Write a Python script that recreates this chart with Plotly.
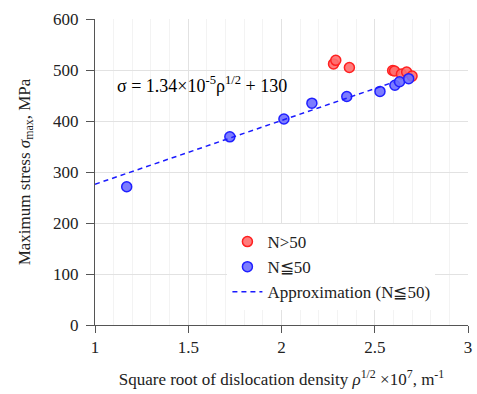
import plotly.graph_objects as go

# Data
red_x = [2.279, 2.291, 2.364, 2.596, 2.606, 2.643, 2.671, 2.700]
red_y = [512, 519, 505, 499, 498, 492, 496, 488]
blue_x = [1.17, 1.723, 2.013, 2.163, 2.35, 2.528, 2.608, 2.633, 2.682]
blue_y = [271, 369, 404, 435, 448, 458, 470, 477, 483]
approx_x = [1.0, 2.60]
approx_y = [276, 476]

x_ticks = [1, 1.5, 2, 2.5, 3]
y_ticks = [0, 100, 200, 300, 400, 500, 600]

FONT = "Times New Roman, Liberation Serif, serif"

fig = go.Figure()
fig.add_trace(go.Scatter(
    x=red_x, y=red_y, mode="markers", name="N>50",
    marker=dict(size=10, color="rgba(255,110,110,0.9)", line=dict(color="#ff2020", width=1.5)),
))
fig.add_trace(go.Scatter(
    x=blue_x, y=blue_y, mode="markers", name="N≦50",
    marker=dict(size=10, color="rgba(110,110,255,0.9)", line=dict(color="#2020ff", width=1.5)),
))
fig.add_trace(go.Scatter(
    x=approx_x, y=approx_y, mode="lines", name="Approximation (N≦50)",
    line=dict(color="#1a1aff", width=1.5, dash="5px,4px"),
))

fig.add_annotation(
    x=1.575, y=471, xref="x", yref="y", showarrow=False,
    text="σ = 1.34×10<sup>-5</sup>ρ<sup>1/2</sup> + 130",
    font=dict(family=FONT, size=18, color="black"),
)

fig.update_layout(
    width=477, height=394,
    margin=dict(l=95, r=5, t=19, b=69),
    paper_bgcolor="white", plot_bgcolor="white",
    font=dict(family=FONT, size=15, color="#222"),
    legend=dict(
        x=0.355, y=0.33, xanchor="left", yanchor="top",
        bgcolor="white", font=dict(family=FONT, size=17, color="#222"),
        itemwidth=30, tracegroupgap=0,
    ),
    showlegend=True,
)
fig.update_xaxes(
    range=[1, 3], tickvals=x_ticks, ticktext=[str(v) for v in x_ticks],
    showgrid=True, gridcolor="#e2e2e2", gridwidth=1,
    minor=dict(dtick=0.1, showgrid=True, gridcolor="#f3f3f3", gridwidth=1),
    showline=True, linecolor="#555", linewidth=1,
    ticks="outside", ticklen=7, tickcolor="#555",
    zeroline=False, mirror=False,
    title=dict(text="Square root of dislocation density <i>ρ</i><sup>1/2</sup> ×10<sup>7</sup>, m<sup>-1</sup>",
               font=dict(family=FONT, size=17, color="#222"), standoff=16),
    tickfont=dict(family=FONT, size=17, color="#222"),
)
fig.update_yaxes(
    range=[0, 600], tickvals=y_ticks,
    showgrid=True, gridcolor="#e2e2e2", gridwidth=1,
    showline=True, linecolor="#555", linewidth=1,
    ticks="outside", ticklen=8, tickcolor="#555",
    ticklabelstandoff=4,
    zeroline=False,
    title=dict(text="Maximum stress <i>σ</i><sub>max</sub>, MPa",
               font=dict(family=FONT, size=17, color="#222"), standoff=18),
    tickfont=dict(family=FONT, size=17, color="#222"),
)

fig.write_html("out.html")
